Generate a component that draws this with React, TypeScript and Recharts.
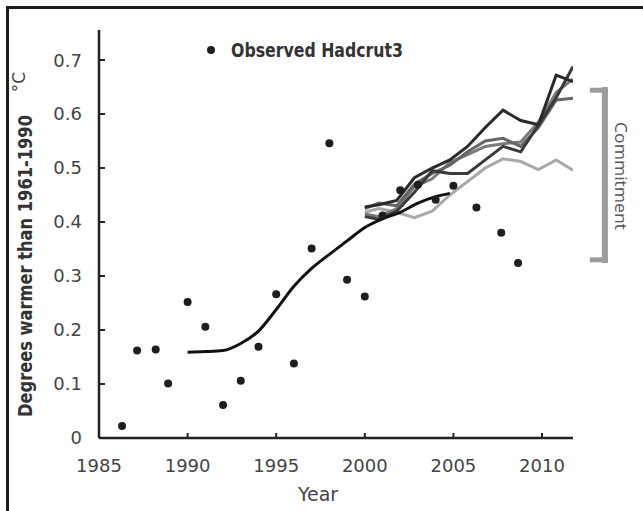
import {
  ComposedChart, XAxis, YAxis, Line, Scatter, ReferenceLine, Legend,
} from "recharts";

// observed HadCRUT3 annual anomalies (dots)
const obsYears = [1986.3, 1987.15, 1988.2, 1988.9, 1990, 1991, 1992, 1993, 1994, 1995, 1996, 1997, 1998, 1999, 2000, 2001, 2002, 2003, 2004, 2005, 2006.3, 2007.7, 2008.65];
const obsValues = [0.022, 0.162, 0.164, 0.101, 0.252, 0.206, 0.061, 0.106, 0.169, 0.266, 0.138, 0.351, 0.546, 0.293, 0.262, 0.412, 0.459, 0.469, 0.441, 0.467, 0.427, 0.38, 0.324];

// smoothed observed trend
const trendYears = [1990, 1991, 1992, 1993, 1994, 1995, 1996, 1997, 1998, 1999, 2000, 2001, 2002, 2003, 2004, 2004.8];
const trendValues = [0.159, 0.16, 0.162, 0.175, 0.198, 0.238, 0.281, 0.314, 0.34, 0.365, 0.39, 0.406, 0.418, 0.435, 0.447, 0.453];

// model runs
const modelYears = [2000, 2000.8, 2001.8, 2002.8, 2003.8, 2004.8, 2005.8, 2006.8, 2007.8, 2008.8, 2009.8, 2010.8, 2011.75];
const modelA = [0.428, 0.432, 0.44, 0.482, 0.5, 0.515, 0.54, 0.575, 0.607, 0.588, 0.58, 0.672, 0.66];
const modelB = [0.41, 0.405, 0.42, 0.455, 0.495, 0.49, 0.49, 0.515, 0.54, 0.53, 0.58, 0.63, 0.688];
const modelC = [0.425, 0.435, 0.43, 0.47, 0.49, 0.505, 0.53, 0.55, 0.555, 0.54, 0.575, 0.626, 0.629];
const modelD = [0.415, 0.41, 0.425, 0.465, 0.48, 0.51, 0.525, 0.54, 0.545, 0.548, 0.585, 0.64, 0.665];
const modelE = [0.418, 0.425, 0.418, 0.408, 0.42, 0.45, 0.475, 0.5, 0.517, 0.512, 0.497, 0.515, 0.496];

const xTicks = [1985, 1990, 1995, 2000, 2005, 2010];
const yTicks = [0, 0.1, 0.2, 0.3, 0.4, 0.5, 0.6, 0.7];

// commitment bracket (data units)
const commitLow = 0.33;
const commitHigh = 0.644;
const bracketX = 2013.55;
const bracketLeft = 2012.7;

const toRows = (xs: number[], ys: number[]) => xs.map((year, i) => ({ year, value: ys[i] }));

const obsData = toRows(obsYears, obsValues);
const trendData = toRows(trendYears, trendValues);
const models = [
  { data: toRows(modelYears, modelE), color: "#a9a9a9" },
  { data: toRows(modelYears, modelD), color: "#7a7a7a" },
  { data: toRows(modelYears, modelC), color: "#666666" },
  { data: toRows(modelYears, modelB), color: "#3a3a3a" },
  { data: toRows(modelYears, modelA), color: "#2a2a2a" },
];

const narrow = "'Liberation Sans Narrow', 'DejaVu Sans Condensed', 'Liberation Sans', sans-serif";
const tickFont = "'DejaVu Sans', Verdana, sans-serif";

function XTick({ x, y, payload }: any) {
  const v = payload.value;
  return (
    <g>
      {v !== 1985 && <line x1={x} x2={x} y1={y} y2={y - 5} stroke="#222" strokeWidth={2} />}
      <text x={x} y={y + 34} textAnchor="middle" fontFamily={tickFont} fontSize={18} fill="#444">{v}</text>
    </g>
  );
}

function YTick({ x, y, payload }: any) {
  const v = payload.value;
  return (
    <g>
      {v !== 0 && <line x1={x} x2={x + 6} y1={y} y2={y} stroke="#222" strokeWidth={2} />}
      <text x={x - 17} y={y} dy="0.36em" textAnchor="end" fontFamily={tickFont} fontSize={18} fill="#444">
        {v === 0 ? "0" : v.toFixed(1)}
      </text>
    </g>
  );
}

function ObsLegend() {
  return (
    <svg width={220} height={26}>
      <circle cx={11} cy={13} r={4} fill="#1e1e1e" />
      <text x={31} y={13} dy="0.36em" fontFamily={narrow} fontWeight="bold" fontSize={19} fill="#333"
        textLength={172} lengthAdjust="spacingAndGlyphs">Observed Hadcrut3</text>
    </svg>
  );
}

export default function App() {
  return (
    <div style={{ position: "absolute", left: 0, top: 0, width: 643, height: 511, overflow: "hidden", background: "#fff" }}>
      <div style={{ position: "absolute", left: 6, top: 6, width: 700, height: 600, border: "3px solid #1e1e1e" }} />
      <div style={{ position: "absolute", left: 0, top: 0 }}>
        <ComposedChart width={643} height={511} margin={{ top: 30, right: 70, bottom: 33, left: 39 }}>
          <XAxis
            type="number" dataKey="year" domain={[1985, 2011.75]} ticks={xTicks}
            height={40} tickSize={0} tickMargin={0} tickLine={false} tick={<XTick />}
            axisLine={{ stroke: "#222", strokeWidth: 2.5 }} allowDataOverflow
          />
          <YAxis
            type="number" dataKey="value" domain={[0, 0.7556]} ticks={yTicks}
            width={60} tickSize={0} tickMargin={0} tickLine={false} tick={<YTick />}
            axisLine={{ stroke: "#222", strokeWidth: 2.5 }} allowDataOverflow
          />
          <Legend
            layout="horizontal" align="center" verticalAlign="middle"
            content={<ObsLegend />}
            wrapperStyle={{ left: 200, top: 37, width: 220, height: 26 }}
          />
          {models.map((m, i) => (
            <Line
              key={i} data={m.data} dataKey="value" type="linear" stroke={m.color}
              strokeWidth={3} dot={false} activeDot={false} isAnimationActive={false}
            />
          ))}
          <Line
            data={trendData} dataKey="value" type="monotone" stroke="#111"
            strokeWidth={3} dot={false} activeDot={false} isAnimationActive={false}
          />
          <Scatter
            data={obsData} dataKey="value" name="Observed Hadcrut3" isAnimationActive={false}
            shape={(p: any) => <circle cx={p.cx} cy={p.cy} r={4} fill="#1e1e1e" />}
          />
          <ReferenceLine
            segment={[{ x: bracketX, y: commitLow - 0.006 }, { x: bracketX, y: commitHigh + 0.006 }]}
            stroke="#9c9c9c" strokeWidth={6} ifOverflow="visible"
          />
          <ReferenceLine
            segment={[{ x: bracketLeft, y: commitHigh }, { x: bracketX + 0.17, y: commitHigh }]}
            stroke="#9c9c9c" strokeWidth={5} ifOverflow="visible"
          />
          <ReferenceLine
            segment={[{ x: bracketLeft, y: commitLow }, { x: bracketX + 0.17, y: commitLow }]}
            stroke="#9c9c9c" strokeWidth={5} ifOverflow="visible"
          />
        </ComposedChart>
      </div>
      <svg width={643} height={511} style={{ position: "absolute", left: 0, top: 0, pointerEvents: "none" }}>
        <text transform="translate(25,266) rotate(-90)" textAnchor="middle" dy="0.36em"
          fontFamily={narrow} fontWeight="bold" fontSize={19} fill="#333"
          textLength={302} lengthAdjust="spacingAndGlyphs">Degrees warmer than 1961-1990</text>
        <text transform="translate(19,82) rotate(-90)" textAnchor="middle" dy="0.36em"
          fontFamily={tickFont} fontSize={17} fill="#444">°C</text>
        <text x={318} y={501} textAnchor="middle" fontFamily={tickFont} fontSize={19} fill="#444">Year</text>
        <text transform="translate(621,176) rotate(90)" textAnchor="middle" dy="0.36em"
          fontFamily="'Open Sans', sans-serif" fontSize={17} fill="#555"
          textLength={108} lengthAdjust="spacingAndGlyphs">Commitment</text>
      </svg>
    </div>
  );
}
